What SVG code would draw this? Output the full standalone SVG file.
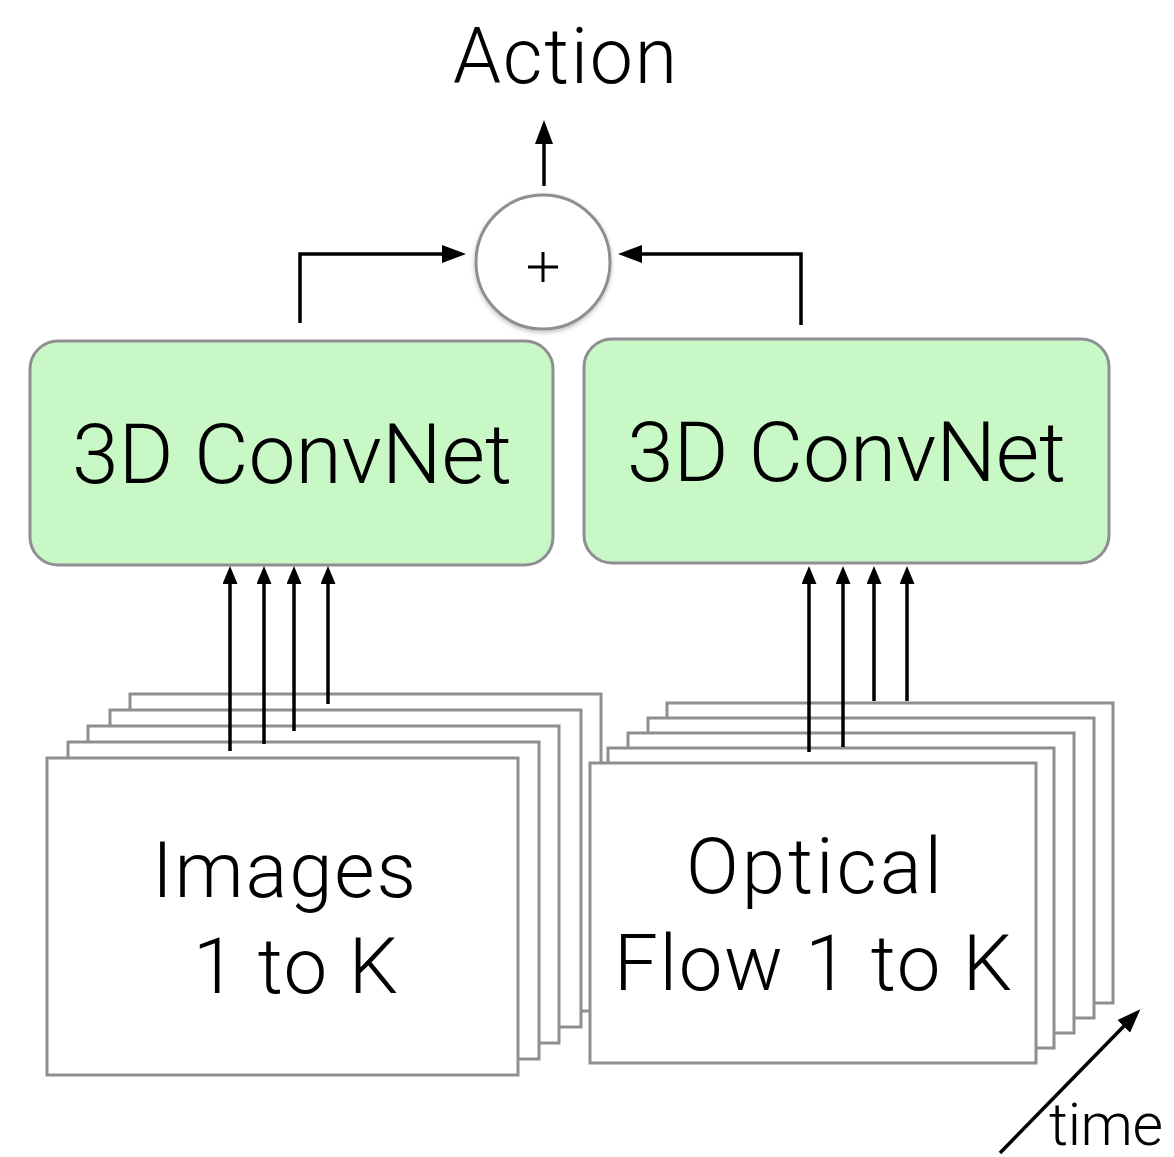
<svg xmlns="http://www.w3.org/2000/svg" width="1174" height="1157" viewBox="0 0 1174 1157">
  <style>
    .lbl { font-family: Roboto, "Liberation Sans", sans-serif; font-weight: 300; fill: #000; }
    .frame { fill: #fff; stroke: #8e8e93; stroke-width: 3; }
    .net { fill: #c9f8c7; stroke: #8e8e93; stroke-width: 3; }
    .wire { fill: none; stroke: #000; stroke-width: 3.5; }
  </style>
  <defs>
    <marker id="head" markerUnits="userSpaceOnUse" markerWidth="24" markerHeight="18" refX="2" refY="9" orient="auto">
      <path d="M0,0 L24,9 L0,18 z" fill="#000"/>
    </marker>
    <marker id="head-sm" markerUnits="userSpaceOnUse" markerWidth="18" markerHeight="15" refX="2" refY="7.5" orient="auto">
      <path d="M0,0 L18,7.5 L0,15 z" fill="#000"/>
    </marker>
    <filter id="soft" x="-20%" y="-20%" width="140%" height="140%">
      <feDropShadow dx="0" dy="2" stdDeviation="2" flood-color="#000" flood-opacity="0.25"/>
    </filter>
  </defs>

  <rect width="1174" height="1157" fill="#fff"/>

  <!-- RGB frame stack, back to front -->
  <g id="images-stack">
    <rect class="frame" x="130" y="694" width="471" height="317"/>
    <rect class="frame" x="110" y="710" width="471" height="317"/>
    <rect class="frame" x="88" y="726" width="471" height="317"/>
    <rect class="frame" x="68" y="742" width="471" height="317"/>
    <rect class="frame" x="47" y="758" width="471" height="317"/>
    <text class="lbl" x="152" y="897" font-size="78" textLength="264" lengthAdjust="spacing">Images</text>
    <text class="lbl" x="193" y="993" font-size="78" textLength="205" lengthAdjust="spacing">1 to K</text>
  </g>

  <!-- Optical flow frame stack, back to front -->
  <g id="flow-stack">
    <rect class="frame" x="667" y="703" width="446" height="300"/>
    <rect class="frame" x="648" y="718" width="446" height="300"/>
    <rect class="frame" x="628" y="733" width="446" height="300"/>
    <rect class="frame" x="608" y="748" width="446" height="300"/>
    <rect class="frame" x="590" y="763" width="446" height="300"/>
    <text class="lbl" x="686" y="893" font-size="78" textLength="256" lengthAdjust="spacing">Optical</text>
    <text class="lbl" x="614" y="990" font-size="78" textLength="398" lengthAdjust="spacing">Flow 1 to K</text>
  </g>

  <g id="convnet-rgb">
    <rect class="net" x="30" y="341" width="523" height="224" rx="28"/>
    <text class="lbl" x="72" y="483" font-size="84" textLength="440" lengthAdjust="spacing">3D ConvNet</text>
  </g>

  <g id="convnet-flow">
    <rect class="net" x="584" y="339" width="525" height="224" rx="28"/>
    <text class="lbl" x="627" y="481" font-size="84" textLength="439" lengthAdjust="spacing">3D ConvNet</text>
  </g>

  <g id="sum">
    <circle cx="543" cy="262" r="67" fill="#fff" stroke="#8e8e93" stroke-width="3" filter="url(#soft)"/>
    <path d="M528,267 H558 M543,252 V282" stroke="#000" stroke-width="3" fill="none"/>
  </g>

  <g id="action">
    <text class="lbl" x="453" y="83" font-size="77" textLength="224" lengthAdjust="spacing">Action</text>
  </g>

  <g id="time-axis">
    <text class="lbl" x="1049" y="1145" font-size="59" textLength="114" lengthAdjust="spacing">time</text>
  </g>

  <!-- connectors -->
  <g id="connectors">
    <!-- frames into RGB ConvNet -->
    <line class="wire" x1="230" y1="751" x2="230" y2="582" marker-end="url(#head-sm)"/>
    <line class="wire" x1="264" y1="744" x2="264" y2="582" marker-end="url(#head-sm)"/>
    <line class="wire" x1="294" y1="731" x2="294" y2="582" marker-end="url(#head-sm)"/>
    <line class="wire" x1="328" y1="704" x2="328" y2="582" marker-end="url(#head-sm)"/>
    <!-- frames into flow ConvNet -->
    <line class="wire" x1="809" y1="752" x2="809" y2="582" marker-end="url(#head-sm)"/>
    <line class="wire" x1="843" y1="747" x2="843" y2="582" marker-end="url(#head-sm)"/>
    <line class="wire" x1="874" y1="701" x2="874" y2="582" marker-end="url(#head-sm)"/>
    <line class="wire" x1="907" y1="701" x2="907" y2="582" marker-end="url(#head-sm)"/>
    <!-- ConvNets into sum -->
    <path class="wire" d="M300,323 V254 H444" marker-end="url(#head)"/>
    <path class="wire" d="M801,325 V254 H640" marker-end="url(#head)"/>
    <!-- sum to action -->
    <line class="wire" x1="544" y1="186" x2="544" y2="142" marker-end="url(#head)"/>
    <!-- time direction -->
    <line class="wire" x1="1000" y1="1153" x2="1125" y2="1025" marker-end="url(#head)"/>
  </g>
</svg>
